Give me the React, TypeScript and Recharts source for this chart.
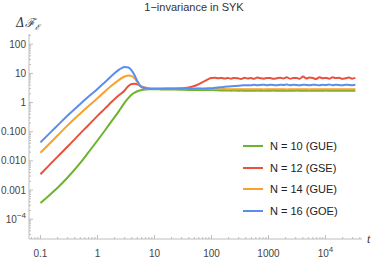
import { LineChart, Line, XAxis, YAxis } from "recharts"

// time grid (log-spaced by eye), early part + noisy tail
const times = [
  0.1, 0.15, 0.2, 0.3, 0.5, 0.7, 1, 1.35, 1.8, 2.4, 3, 3.5, 4, 4.5, 5, 5.5, 6, 7, 8, 10, 13, 17, 22, 30, 40, 50,
  60, 70, 80, 90, 100, 115, 130, 150, 170, 195, 220, 250, 290, 330, 380, 430, 490, 560, 640, 730, 830, 950, 1080,
  1230, 1400, 1600, 1830, 2090, 2380, 2720, 3100, 3540, 4040, 4610, 5260, 6000, 6850, 7820, 8920, 10200, 11600,
  13300, 15100, 17300, 19700, 22500, 25700, 29300, 33400,
]

const n10 = [
  0.00036, 0.00072, 0.0012, 0.0027, 0.0085, 0.02, 0.05, 0.11, 0.24, 0.52, 1.0, 1.45, 1.9, 2.2, 2.45, 2.6, 2.7, 2.8,
  2.85, 2.85, 2.83, 2.8, 2.78, 2.75, 2.72, 2.7, 2.7, 2.68, 2.68, 2.7, 2.7, 2.65, 2.62, 2.6, 2.58, 2.6, 2.56, 2.58,
  2.55, 2.57, 2.53, 2.56, 2.55, 2.52, 2.57, 2.54, 2.56, 2.53, 2.55, 2.57, 2.52, 2.55, 2.54, 2.56, 2.53, 2.55, 2.57,
  2.54, 2.52, 2.56, 2.55, 2.53, 2.56, 2.54, 2.55, 2.57, 2.53, 2.55, 2.54, 2.56, 2.52, 2.55, 2.54, 2.56, 2.55,
]
const n12 = [
  0.0035, 0.0079, 0.014, 0.031, 0.088, 0.17, 0.35, 0.62, 1.08, 1.8, 2.6, 3.7, 4.3, 4.4, 4.2, 3.8, 3.5, 3.2, 3.05,
  3.0, 3.0, 3.02, 3.05, 3.1, 3.3, 3.7, 4.3, 5.0, 5.8, 6.5, 6.9, 7.1, 6.8, 7.0, 6.7, 6.9, 6.6, 7.0, 6.8, 6.4, 7.1,
  6.7, 6.9, 6.5, 7.2, 6.8, 6.6, 7.0, 6.9, 6.5, 6.8, 7.1, 6.7, 7.3, 6.6, 6.9, 7.0, 6.5, 7.8, 6.7, 7.2, 6.9, 6.4,
  7.4, 6.8, 7.0, 6.6, 7.3, 6.9, 7.1, 6.5, 6.8, 7.2, 6.6, 7.0,
]
const n14 = [
  0.019, 0.042, 0.074, 0.165, 0.42, 0.76, 1.4, 2.4, 3.9, 6.0, 7.8, 8.5, 8.0, 6.6, 5.0, 3.9, 3.3, 3.05, 3.0, 3.0,
  2.98, 3.0, 2.97, 2.98, 2.96, 2.97, 2.96, 2.96, 2.95, 2.95, 2.95, 2.92, 2.9, 2.88, 2.9, 2.86, 2.88, 2.85, 2.87,
  2.84, 2.86, 2.85, 2.88, 2.84, 2.86, 2.85, 2.83, 2.87, 2.85, 2.86, 2.84, 2.88, 2.85, 2.83, 2.86, 2.85, 2.87, 2.84,
  2.86, 2.85, 2.83, 2.87, 2.85, 2.86, 2.84, 2.88, 2.85, 2.84, 2.86, 2.85, 2.87, 2.84, 2.86, 2.85, 2.86,
]
const n16 = [
  0.043, 0.095, 0.165, 0.36, 0.9, 1.6, 2.9, 5.0, 8.5, 13.5, 16.5, 16, 12.5, 8.5, 5.5, 4.0, 3.4, 3.1, 3.0, 3.0, 3.0,
  2.98, 3.0, 3.0, 2.98, 3.0, 3.02, 3.0, 3.05, 3.08, 3.1, 3.2, 3.3, 3.35, 3.45, 3.55, 3.6, 3.7, 3.75, 3.85, 3.9,
  3.95, 3.9, 4.05, 3.95, 4.0, 4.1, 3.95, 4.05, 4.0, 3.9, 4.1, 4.0, 4.15, 3.95, 4.05, 4.0, 3.9, 4.1, 4.0, 3.95, 4.1,
  4.0, 3.9, 4.05, 4.0, 4.15, 3.95, 4.05, 4.0, 3.9, 4.1, 4.0, 3.95, 4.05,
]

const xTicks = [0.1, 1, 10, 100, 1000, 10000]
const xLabels = ["0.1", "1", "10", "100", "1000", "10^4"]
const yTicks = [100, 10, 1, 0.1, 0.01, 0.001, 0.0001]
const yLabels = ["100", "10", "1", "0.100", "0.010", "0.001", "10^-4"]

const series = [
  { key: "n10", name: "N = 10 (GUE)", color: "#6db32c" },
  { key: "n12", name: "N = 12 (GSE)", color: "#e8513c" },
  { key: "n14", name: "N = 14 (GUE)", color: "#f9a12a" },
  { key: "n16", name: "N = 16 (GOE)", color: "#5b8def" },
]

const data = times.map((t, i) => ({ t, n10: n10[i], n12: n12[i], n14: n14[i], n16: n16[i] }))

// minor ticks 2..9 per decade
const minors = (lo: number, hi: number) => {
  const out: number[] = []
  for (let e = lo; e <= hi; e++) for (let m = 2; m <= 9; m++) out.push(m * Math.pow(10, e))
  return out
}
const xAll = [...xTicks, ...minors(-2, 4).filter((v) => v > 0.063 && v < 43000)]
const yAll = [...yTicks, ...minors(-5, 2).filter((v) => v > 2.1e-5 && v < 220)]

const FONT = "'Liberation Sans', Arial, sans-serif"
const AXIS = "#bdbdbd"

const label = (s: string, anchorX: number, y: number, anchor: "middle" | "end") => {
  if (s.startsWith("10^")) {
    return (
      <text x={anchorX} y={y} textAnchor={anchor} fontSize={10} fill="#444" fontFamily={FONT}>
        10
        <tspan dy={-5} fontSize={8}>
          {s.slice(3).replace("-", "\u2212")}
        </tspan>
      </text>
    )
  }
  return (
    <text x={anchorX} y={y} textAnchor={anchor} fontSize={10} fill="#444" fontFamily={FONT}>
      {s}
    </text>
  )
}

const XTick = (props: any) => {
  const { x, y, payload } = props
  const idx = xTicks.indexOf(payload.value)
  const major = idx >= 0
  return (
    <g>
      <line x1={x} x2={x} y1={y} y2={y - (major ? 4 : 2)} stroke={AXIS} />
      {major && label(xLabels[idx], x, y + 18, "middle")}
    </g>
  )
}

const YTick = (props: any) => {
  const { x, y, payload } = props
  const idx = yTicks.indexOf(payload.value)
  const major = idx >= 0
  return (
    <g>
      <line x1={x} x2={x + (major ? 4 : 2)} y1={y} y2={y} stroke={AXIS} />
      {major && label(yLabels[idx], x - 3, y + 3.5, "end")}
    </g>
  )
}

export default function App() {
  return (
    <div style={{ position: "absolute", left: 0, top: 0, width: 374, height: 263, background: "#fff" }}>
      <LineChart width={374} height={263} data={data} margin={{ top: 34, right: 12, bottom: 0, left: 0 }}>
        <XAxis
          dataKey="t"
          type="number"
          scale="log"
          domain={[0.063, 43650]}
          allowDataOverflow
          ticks={xAll}
          interval={0}
          tick={<XTick />}
          tickLine={false}
          tickSize={0}
          tickMargin={0}
          height={24}
          axisLine={{ stroke: AXIS }}
        />
        <YAxis
          type="number"
          scale="log"
          domain={[2.1e-5, 224]}
          allowDataOverflow
          ticks={yAll}
          interval={0}
          tick={<YTick />}
          tickLine={false}
          tickSize={0}
          tickMargin={0}
          width={29}
          axisLine={{ stroke: AXIS }}
        />
        {series.map((s) => (
          <Line
            key={s.key}
            dataKey={s.key}
            name={s.name}
            stroke={s.color}
            strokeWidth={2}
            dot={false}
            type="monotone"
            isAnimationActive={false}
          />
        ))}
      </LineChart>
      <div
        style={{
          position: "absolute",
          left: 0,
          width: 388,
          top: 1,
          textAlign: "center",
          fontFamily: FONT,
          fontSize: 11,
          color: "#333",
        }}
      >
        1{"\u2212"}invariance in SYK
      </div>
      <div
        style={{
          position: "absolute",
          left: 16,
          top: 16,
          fontFamily: "'DejaVu Serif', serif",
          fontSize: 12,
          fontStyle: "italic",
          color: "#333",
          lineHeight: "14px",
        }}
      >
        {"\u0394\u2131"}
        <sub style={{ fontSize: 8 }}>{"\u2130"}</sub>
      </div>
      <div
        style={{
          position: "absolute",
          left: 367,
          top: 232,
          fontFamily: "'Liberation Serif', serif",
          fontStyle: "italic",
          fontSize: 12,
          color: "#333",
        }}
      >
        t
      </div>
      <div style={{ position: "absolute", left: 243, top: 135, fontFamily: FONT, fontSize: 11, color: "#222" }}>
        {series.map((s) => (
          <div key={s.key} style={{ display: "flex", alignItems: "center", height: 21.8 }}>
            <div style={{ width: 20, height: 2, background: s.color, marginRight: 7 }} />
            <span>{s.name}</span>
          </div>
        ))}
      </div>
    </div>
  )
}
